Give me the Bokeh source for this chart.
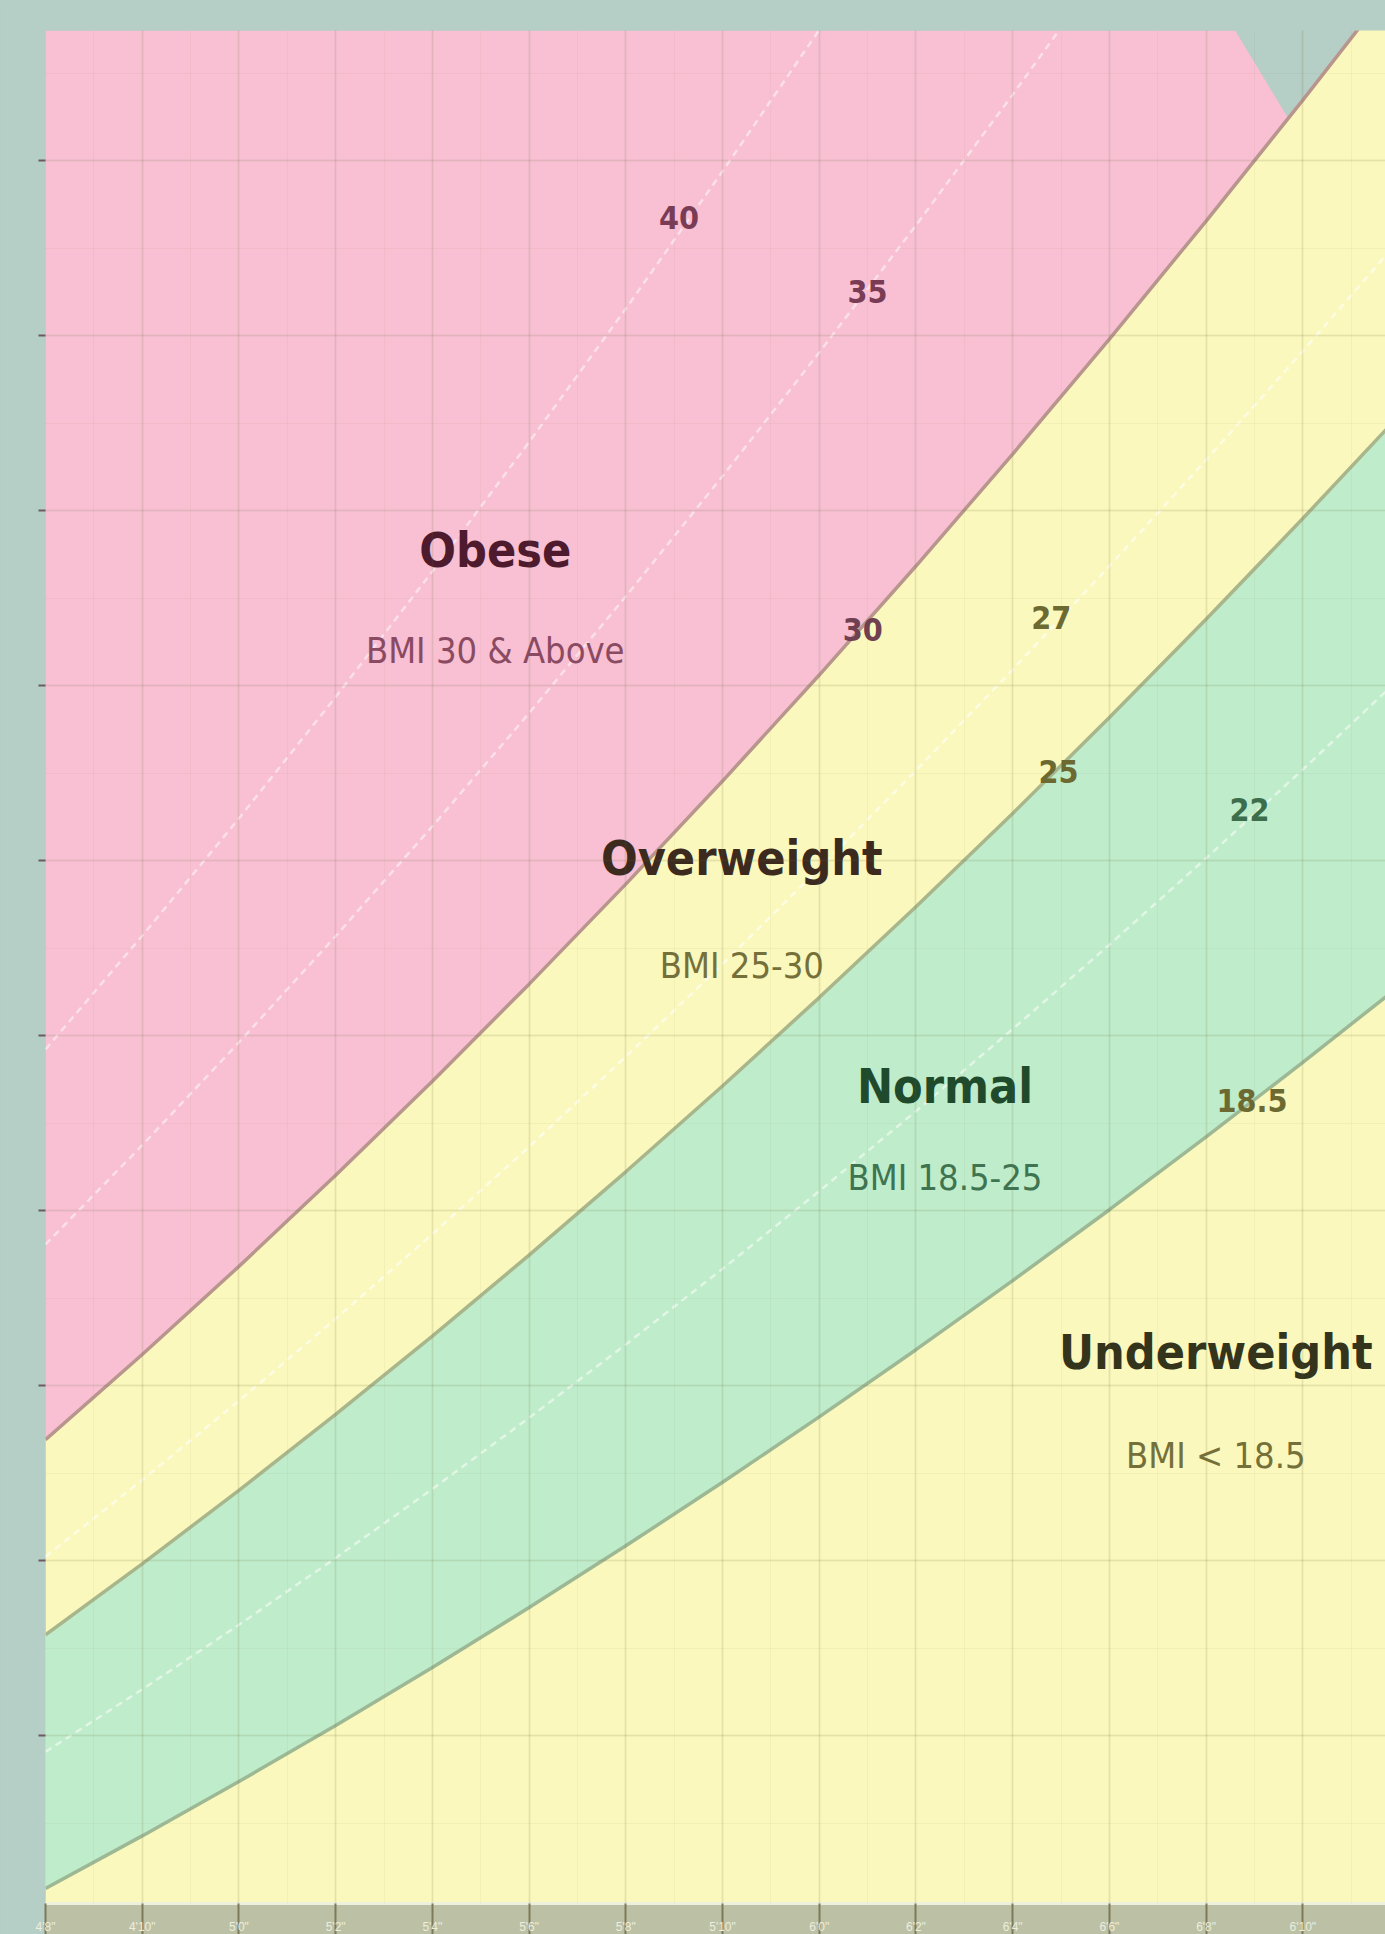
from bokeh.plotting import figure
from bokeh.models import Range1d, SingleIntervalTicker
from bokeh.core.properties import value
from bokeh.embed import file_html
from bokeh.resources import INLINE

# ---------------- data ----------------
# height axis (inches) sample points / tick positions
HEIGHTS_IN = [56, 58, 60, 62, 64, 66, 68, 70, 72, 74, 76, 78, 80, 82, 84]
HEIGHT_TICK_LABELS = {56: "4'8\"", 58: "4'10\"", 60: "5'0\"", 62: "5'2\"", 64: "5'4\"",
                      66: "5'6\"", 68: "5'8\"", 70: "5'10\"", 72: "6'0\"", 74: "6'2\"",
                      76: "6'4\"", 78: "6'6\"", 80: "6'8\"", 82: "6'10\""}
WEIGHT_TICKS_LB = [100, 120, 140, 160, 180, 200, 220, 240, 260, 280]
# BMI category boundaries (solid) and guide lines (dashed)
BOUNDARY_BMI = [18.5, 25, 30]
GUIDE_BMI = [22, 27, 35, 40]
# top-right cut of the obese area (height at top edge, height on BMI 30 curve)
OBESE_CUT_HEIGHTS = [80.6, 81.7]

# category labels
CAT_NAMES = ["Obese", "Overweight", "Normal", "Underweight"]
CAT_SUBS = ["BMI 30 & Above", "BMI 25-30", "BMI 18.5-25", "BMI < 18.5"]
CAT_X = [65.3, 70.4, 74.6, 80.2]
CAT_Y = [235.5, 200.3, 174.3, 143.8]
SUB_Y = [224.0, 188.0, 163.8, 132.0]

# BMI number labels on the curves
NUM_TEXT = ["40", "35", "30", "27", "25", "22", "18.5"]
NUM_X = [69.1, 73.0, 72.9, 76.8, 76.95, 80.9, 80.95]
NUM_Y = [273.5, 265.1, 226.4, 227.8, 210.2, 205.8, 172.6]

X_MIN, X_MAX = 56.0, 83.71
Y_MIN, Y_MAX = 80.8, 294.9


def weight(bmi, h):
    return bmi * h * h / 703.0


TEAL = "#b5cec6"
PINK = "#f8c0d2"
YELLOW = "#faf8bc"
GREEN = "#bfecca"
FONT = value("'Liberation Sans Narrow', 'DejaVu Sans Condensed', 'Roboto', sans-serif")

p = figure(x_range=Range1d(X_MIN, X_MAX), y_range=Range1d(Y_MIN, Y_MAX),
           frame_width=1340, frame_height=1873,
           min_border_left=45, min_border_right=0, min_border_top=30, min_border_bottom=31,
           background_fill_color=TEAL, border_fill_color=TEAL, outline_line_color=None,
           output_backend="svg", toolbar_location=None)

w185 = [weight(18.5, h) for h in HEIGHTS_IN]
w25 = [weight(25, h) for h in HEIGHTS_IN]
w30 = [weight(30, h) for h in HEIGHTS_IN]

# yellow: everything under BMI 30
p.varea(x=HEIGHTS_IN, y1=[Y_MIN] * len(HEIGHTS_IN), y2=w30, fill_color=YELLOW)
# green: normal band
p.varea(x=HEIGHTS_IN, y1=w185, y2=w25, fill_color=GREEN)
# pink: obese area, cut at top right
hc0, hc1 = OBESE_CUT_HEIGHTS
px = [X_MIN, hc0, hc1] + [h for h in reversed(HEIGHTS_IN) if h < hc1] + [X_MIN]
py = [Y_MAX, Y_MAX, weight(30, hc1)] + [weight(30, h) for h in reversed(HEIGHTS_IN) if h < hc1] + [weight(30, X_MIN)]
p.patch(px, py, fill_color=PINK, line_color=None)

# dashed guides
guide_colors = {22: "#e2f6e6", 27: "#fdfce4", 35: "#fbe0e9", 40: "#fbe0e9"}
for b in GUIDE_BMI:
    p.line(HEIGHTS_IN, [weight(b, h) for h in HEIGHTS_IN], line_color=guide_colors[b],
           line_width=2.5, line_dash="7 5")

# solid boundaries
bcol = {18.5: "#9db894", 25: "#a9b68c", 30: "#b8968e"}
for b in BOUNDARY_BMI:
    p.line(HEIGHTS_IN, [weight(b, h) for h in HEIGHTS_IN], line_color=bcol[b], line_width=3.5)

# grid
p.xaxis.ticker = SingleIntervalTicker(interval=2, num_minor_ticks=2)
p.yaxis.ticker = SingleIntervalTicker(interval=20, num_minor_ticks=2)
for g in (p.xgrid, p.ygrid):
    g.level = "annotation"
    g.grid_line_color = "#6f6a3a"
    g.grid_line_alpha = 0.10
    g.grid_line_width = 2
    g.minor_grid_line_color = "#6f6a3a"
    g.minor_grid_line_alpha = 0.05

# category labels
name_colors = ["#4e1a2e", "#3c2a1e", "#1f4a2c", "#34341c"]
sub_colors = ["#8a4a62", "#75703a", "#3f7450", "#75703a"]
p.text(x=CAT_X, y=CAT_Y, text=CAT_NAMES, text_font=FONT, text_font_style="bold",
       text_font_size="48px", text_align="center", text_baseline="middle",
       text_color=name_colors)
p.text(x=CAT_X, y=SUB_Y, text=CAT_SUBS, text_font=FONT, text_font_size="36px",
       text_align="center", text_baseline="middle", text_color=sub_colors)

num_colors = ["#7a3c55", "#7a3c55", "#6e4050", "#6c6a30", "#6c6a30", "#3d6e4c", "#6c6a30"]
p.text(x=NUM_X, y=NUM_Y, text=NUM_TEXT, text_font=FONT, text_font_style="bold",
       text_font_size="32px", text_align="center", text_baseline="middle",
       text_color=num_colors)

# left axis: ticks only (labels are outside the picture)
ya = p.yaxis[0]
ya.axis_line_color = None
ya.major_tick_out = 7
ya.major_tick_in = 0
ya.major_tick_line_color = "#6e5a5e"
ya.major_tick_line_width = 2
ya.minor_tick_line_color = None
ya.major_label_overrides = {v: "" for v in WEIGHT_TICKS_LB}
ya.major_label_standoff = 0

# bottom axis strip
xa = p.xaxis[0]
xa.axis_line_color = "#eef0de"
xa.axis_line_width = 3
xa.major_tick_out = 31
xa.major_tick_in = 0
xa.major_tick_line_color = "#7c7a5a"
xa.major_tick_line_width = 2
xa.minor_tick_line_color = None
xa.major_label_overrides = HEIGHT_TICK_LABELS
xa.major_label_standoff = -15
xa.major_label_text_color = "#eceede"
xa.major_label_text_font_size = "12px"
xa.background_fill_color = "#bcc1a5"

html = file_html(p, INLINE)
html = html.replace("<body>", '<body style="background:#b5cec6">')
open("out.html", "w").write(html)
